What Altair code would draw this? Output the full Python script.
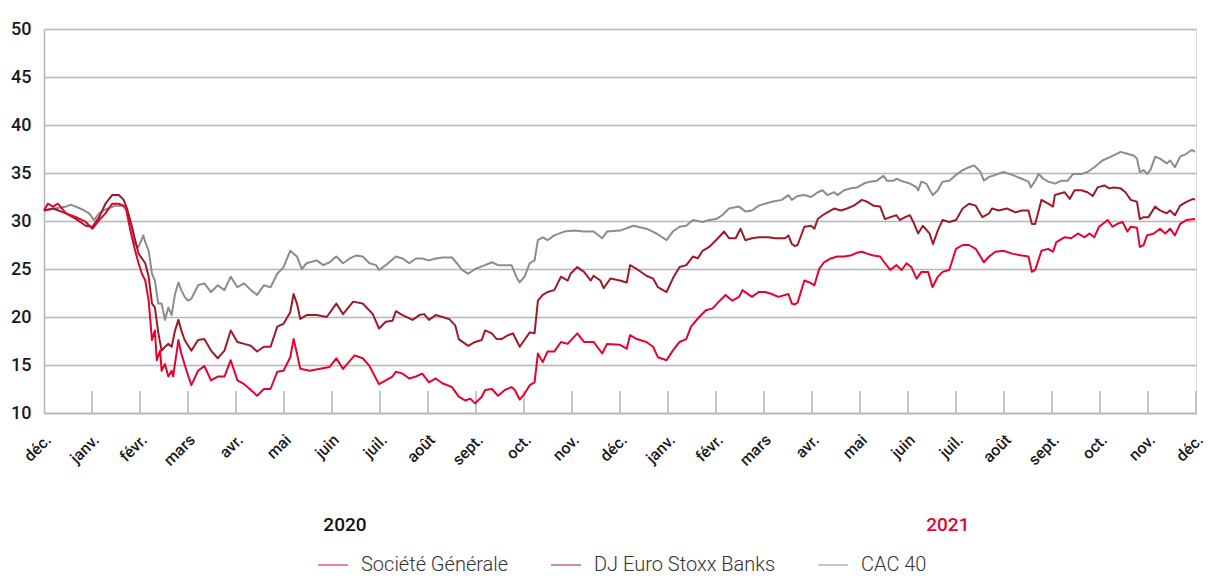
import altair as alt
import pandas as pd

# ---------------- data ----------------
month_labels = ["déc.", "janv.", "févr.", "mars", "avr.", "mai", "juin",
                "juil.", "août", "sept.", "oct.", "nov."]
series_names = ["Société Générale", "DJ Euro Stoxx Banks", "CAC 40"]
series_colors = ["#e4032e", "#9b1b2b", "#8c8c8c"]

cac_m = [0, 0.46, 0.56, 0.80, 0.94, 1.04, 1.15, 1.28, 1.49, 1.63, 1.73, 1.83, 1.90, 1.97,
         2.07, 2.11, 2.18, 2.25, 2.31, 2.38, 2.45, 2.52, 2.59, 2.66, 2.73, 2.80, 2.86, 2.93,
         3.00, 3.07, 3.14, 3.21, 3.34, 3.48, 3.62, 3.76, 3.89, 4.03, 4.17, 4.31, 4.44, 4.58,
         4.72, 4.86, 4.99, 5.13, 5.27, 5.37, 5.47, 5.68, 5.82, 5.95, 6.09, 6.23, 6.37, 6.50,
         6.64, 6.78, 6.92, 6.98, 7.12, 7.33,
         7.47, 7.61, 7.75, 7.88, 8.02, 8.16, 8.30, 8.50, 8.60, 8.71, 8.84, 8.98, 9.19, 9.33,
         9.46, 9.60, 9.74, 9.84, 9.91, 10.01, 10.12, 10.22, 10.29, 10.39, 10.49, 10.63, 10.84,
         11.04, 11.25, 11.45, 11.63, 11.73, 12.00, 12.28, 12.55, 12.76, 12.97, 13.10, 13.24,
         13.38, 13.52, 13.72, 13.86, 14.00, 14.13, 14.27, 14.48, 14.61, 14.75, 14.89, 15.16,
         15.37, 15.51, 15.58,
         15.70, 15.84, 15.98, 16.12, 16.22, 16.32, 16.46, 16.53, 16.67, 16.80, 16.94, 17.08,
         17.21, 17.35, 17.49, 17.56, 17.70, 17.76, 17.90, 18.04, 18.18, 18.21, 18.28, 18.38,
         18.48, 18.52, 18.62, 18.72, 18.86, 19.00, 19.14, 19.27, 19.38, 19.51, 19.58, 19.69,
         19.82, 19.99, 20.17, 20.37, 20.51, 20.56, 20.65, 20.72, 20.82, 20.92, 21.06, 21.20,
         21.33, 21.44, 21.61, 21.74, 21.88, 22.05, 22.23, 22.43, 22.57, 22.71, 22.77, 22.83,
         22.91, 22.98, 23.05, 23.15, 23.25, 23.39, 23.46, 23.56, 23.67, 23.80, 23.91, 23.98]
cac_v = [31.1, 31.5, 31.7, 31.2, 30.8, 30.1, 30.8, 31.2, 31.6, 31.6, 31.1, 29.5, 27.6, 27.3,
         28.5, 27.8, 26.9, 24.5, 23.8, 21.4, 21.4, 19.7, 21.0, 20.2, 22.4, 23.6, 22.8, 22.1,
         21.7, 21.9, 22.6, 23.3, 23.5, 22.6, 23.3, 22.8, 24.2, 23.1, 23.5, 22.8, 22.3, 23.3,
         23.1, 24.5, 25.2, 26.9, 26.3, 25.0, 25.6, 25.9, 25.4, 25.7, 26.3, 25.6, 26.1, 26.4,
         26.3, 25.6, 25.4, 24.9, 25.4, 26.3,
         26.1, 25.6, 26.1, 26.1, 25.9, 26.1, 26.2, 26.2, 25.6, 24.9, 24.5, 25.0, 25.4, 25.7,
         25.4, 25.4, 25.4, 24.2, 23.6, 24.2, 25.6, 25.9, 28.0, 28.3, 28.0, 28.5, 28.9,
         29.0, 28.9, 28.9, 28.2, 28.9, 29.0, 29.5, 29.2, 28.7, 28.0, 28.9, 29.4,
         29.5, 30.1, 29.9, 30.1, 30.2, 30.6, 31.3, 31.5, 31.0, 31.1, 31.6, 32.0,
         32.2, 32.7, 32.2,
         32.6, 32.7, 32.5, 33.0, 33.2, 32.7, 33.0, 32.7, 33.2, 33.4, 33.5, 33.9,
         34.1, 34.2, 34.7, 34.2, 34.2, 34.4, 34.1, 33.9, 33.5, 33.2, 34.1, 33.9,
         33.0, 32.7, 33.2, 34.1, 34.2, 34.8, 35.3, 35.6, 35.8, 35.1, 34.2, 34.6,
         34.8, 35.1, 34.8, 34.4, 34.1, 33.5, 34.2, 34.9, 34.4, 34.1, 33.9, 34.2,
         34.2, 34.9, 34.9, 35.1, 35.6, 36.3, 36.7, 37.2, 37.0, 36.8, 36.5, 35.1,
         35.3, 34.9, 35.3, 36.7, 36.5, 36.0, 36.3, 35.6, 36.7, 37.0, 37.4, 37.2]

dj_m = [0, 0.19, 0.46, 0.67, 0.87, 1.01, 1.15, 1.28, 1.42, 1.56, 1.66, 1.73, 1.83, 1.90,
        1.97, 2.11, 2.18, 2.25, 2.31, 2.38, 2.45, 2.52, 2.59, 2.66, 2.73, 2.80, 2.86, 2.93,
        3.07, 3.21, 3.34, 3.48, 3.62, 3.76, 3.89, 4.03, 4.17, 4.31, 4.44, 4.58, 4.72, 4.86,
        4.99, 5.13, 5.20, 5.27, 5.34, 5.47, 5.68, 5.89, 6.09, 6.23, 6.44, 6.64, 6.85, 6.98,
        7.12, 7.26, 7.33,
        7.47, 7.68, 7.82, 7.92, 8.02, 8.16, 8.30, 8.44, 8.57, 8.64, 8.78, 8.84, 8.98, 9.12,
        9.19, 9.33, 9.43, 9.53, 9.67, 9.77, 9.84, 9.91, 10.01, 10.12, 10.22, 10.29, 10.39,
        10.49, 10.63, 10.77, 10.91, 10.97, 11.11, 11.25, 11.39, 11.45, 11.59, 11.66, 11.80,
        12.00, 12.14, 12.21, 12.35, 12.55, 12.69, 12.79, 12.97, 13.10, 13.24, 13.38, 13.52,
        13.62, 13.72, 13.86, 14.00, 14.17, 14.27, 14.41, 14.51, 14.61, 14.75, 14.89, 15.09,
        15.23, 15.44, 15.51, 15.58,
        15.64, 15.70, 15.84, 15.98, 16.05, 16.12, 16.22, 16.32, 16.46, 16.60, 16.73, 16.87,
        17.04, 17.15, 17.28, 17.42, 17.52, 17.63, 17.76, 17.83, 17.94, 18.04, 18.11, 18.21,
        18.31, 18.45, 18.52, 18.62, 18.72, 18.86, 19.00, 19.14, 19.27, 19.41, 19.55, 19.69,
        19.75, 19.89, 20.06, 20.24, 20.37, 20.51, 20.58, 20.65, 20.78, 20.92, 21.02, 21.06,
        21.26, 21.37, 21.47, 21.61, 21.74, 21.85, 21.95, 22.09, 22.19, 22.29, 22.43, 22.53,
        22.64, 22.77, 22.83, 22.91, 23.01, 23.15, 23.25, 23.39, 23.46, 23.56, 23.67, 23.80,
        23.94, 23.98]
dj_v = [31.1, 31.3, 30.8, 30.2, 29.5, 29.4, 30.4, 31.8, 32.7, 32.7, 32.2, 31.3, 29.4, 28.0,
        26.6, 25.6, 24.2, 21.4, 21.0, 18.4, 16.5, 16.9, 17.2, 16.9, 18.6, 19.7, 18.6, 17.6,
        16.5, 17.6, 17.7, 16.5, 15.7, 16.5, 18.6, 17.4, 17.2, 17.0, 16.4, 16.9, 16.9, 19.0,
        19.3, 20.5, 22.4, 21.4, 19.8, 20.2, 20.2, 20.0, 21.4, 20.3, 21.6, 21.4, 20.3, 18.8,
        19.5, 19.6, 20.6,
        20.2, 19.7, 20.2, 20.3, 19.7, 20.2, 20.0, 19.8, 19.1, 17.7, 17.2, 17.0, 17.4, 17.6,
        18.6, 18.3, 17.7, 17.7, 18.1, 18.3, 17.6, 16.9, 17.6, 18.4, 18.3, 21.7, 22.3,
        22.6, 22.8, 24.2, 23.8, 24.5, 25.2, 24.7, 23.8, 24.3, 23.8, 23.0, 24.0,
        23.8, 23.6, 25.4, 25.0, 24.3, 24.0, 23.1, 22.6, 24.0, 25.2, 25.4, 26.3,
        26.1, 26.9, 27.3, 28.0, 28.9, 28.2, 28.2, 29.2, 28.0, 28.2, 28.3, 28.3,
        28.2, 28.2, 28.5, 27.6,
        27.4, 27.5, 29.4, 29.5, 29.2, 30.2, 30.6, 30.9, 31.3, 31.1, 31.3, 31.6,
        32.2, 32.0, 31.6, 31.5, 30.2, 30.4, 30.6, 30.1, 30.4, 30.6, 29.9, 28.7,
        29.5, 28.7, 27.6, 29.0, 30.1, 29.9, 30.1, 31.3, 31.8, 31.6, 30.4, 30.8,
        31.3, 31.1, 31.3, 30.9, 31.1, 31.1, 29.7, 29.7, 32.2, 31.8, 31.5, 32.7,
        33.0, 32.3, 33.2, 33.2, 33.0, 32.6, 33.5, 33.7, 33.4, 33.5, 33.4, 33.0,
        32.2, 32.0, 30.2, 30.4, 30.4, 31.5, 31.1, 30.8, 31.1, 30.6, 31.6, 32.0,
        32.3, 32.2]

sg_m = [0, 0.08, 0.19, 0.29, 0.46, 0.67, 0.87, 1.01, 1.15, 1.28, 1.42, 1.56, 1.70, 1.80,
        1.90, 1.97, 2.04, 2.11, 2.18, 2.25, 2.31, 2.35, 2.42, 2.45, 2.52, 2.59, 2.66, 2.69,
        2.80, 2.86, 2.97, 3.07, 3.21, 3.34, 3.48, 3.62, 3.76, 3.89, 4.03, 4.17, 4.31, 4.44,
        4.58, 4.72, 4.86, 4.99, 5.13, 5.20, 5.27, 5.34, 5.54, 5.75, 5.95, 6.09, 6.23, 6.47,
        6.64, 6.78, 6.98, 7.12, 7.26, 7.33,
        7.47, 7.61, 7.75, 7.88, 8.02, 8.16, 8.30, 8.50, 8.64, 8.78, 8.88, 8.98, 9.12, 9.19,
        9.33, 9.46, 9.60, 9.74, 9.81, 9.91, 10.01, 10.12, 10.22, 10.29, 10.39, 10.49, 10.63,
        10.77, 10.91, 11.11, 11.25, 11.45, 11.63, 11.73, 12.00, 12.14, 12.21, 12.35, 12.55,
        12.69, 12.79, 12.97, 13.10, 13.24, 13.38, 13.48, 13.65, 13.79, 13.93, 14.06, 14.20,
        14.34, 14.48, 14.55, 14.75, 14.89, 15.03, 15.16, 15.30, 15.51, 15.58,
        15.64, 15.70, 15.84, 15.95, 16.05, 16.15, 16.25, 16.39, 16.53, 16.67, 16.80, 16.94,
        17.04, 17.15, 17.28, 17.42, 17.52, 17.63, 17.76, 17.87, 17.97, 18.07, 18.18, 18.28,
        18.42, 18.51, 18.62, 18.72, 18.86, 19.00, 19.14, 19.27, 19.41, 19.51, 19.58, 19.69,
        19.82, 19.99, 20.17, 20.37, 20.51, 20.58, 20.65, 20.78, 20.92, 21.02, 21.09, 21.26,
        21.40, 21.54, 21.68, 21.78, 21.88, 21.98, 22.16, 22.26, 22.36, 22.47, 22.57, 22.64,
        22.77, 22.83, 22.91, 22.98, 23.12, 23.25, 23.36, 23.46, 23.56, 23.67, 23.80, 23.98]
sg_v = [31.1, 31.8, 31.5, 31.8, 30.8, 30.4, 29.9, 29.2, 30.1, 30.8, 31.8, 31.8, 31.5, 29.0,
        26.9, 25.6, 24.5, 23.8, 21.7, 17.6, 18.6, 15.5, 16.5, 14.4, 15.1, 13.8, 14.4, 13.8,
        17.6, 16.2, 14.4, 12.9, 14.4, 14.9, 13.4, 13.8, 13.8, 15.5, 13.4, 13.0, 12.4, 11.8,
        12.5, 12.5, 14.3, 14.4, 15.8, 17.7, 16.2, 14.6, 14.4, 14.6, 14.8, 15.7, 14.6, 16.0,
        15.7, 14.9, 13.0, 13.4, 13.8, 14.3,
        14.1, 13.6, 13.8, 14.1, 13.2, 13.6, 13.1, 12.7, 11.7, 11.3, 11.5, 11.0, 11.7, 12.4,
        12.5, 11.8, 12.4, 12.7, 12.4, 11.4, 12.0, 12.9, 13.2, 16.2, 15.3, 16.4, 16.4,
        17.4, 17.2, 18.3, 17.4, 17.4, 16.2, 17.2, 17.1, 16.7, 18.1, 17.7, 17.4,
        16.9, 15.8, 15.5, 16.5, 17.4, 17.7, 19.0, 20.0, 20.7, 20.9, 21.6, 22.3,
        21.7, 22.1, 22.8, 22.1, 22.6, 22.6, 22.4, 22.1, 22.4, 21.4,
        21.3, 21.5, 23.8, 23.6, 23.3, 25.0, 25.7, 26.1, 26.3, 26.3, 26.4, 26.7,
        26.8, 26.6, 26.4, 26.3, 25.6, 24.9, 25.4, 24.9, 25.6, 25.2, 24.0, 24.7,
        24.7, 23.1, 24.2, 24.7, 24.9, 27.1, 27.5, 27.5, 27.1, 26.3, 25.7, 26.3,
        26.8, 26.9, 26.6, 26.4, 26.3, 24.7, 24.9, 26.9, 27.1, 26.8, 27.8, 28.3,
        28.2, 28.7, 28.3, 28.7, 28.3, 29.4, 30.1, 29.4, 29.7, 29.9, 28.9, 29.4,
        29.3, 27.3, 27.5, 28.5, 28.7, 29.2, 28.7, 29.2, 28.5, 29.7, 30.1, 30.2]

tick_months = list(range(1, 25))
year_labels = ["2020", "2021"]
year_pos = [6.27, 18.83]
year_colors = ["#111111", "#e4032e"]

# ---------------- build ----------------
W, H = 1152, 384
PL, PT = 36, 21
TOTAL_W, TOTAL_H = 1201, 569

rows = []
for name, ms, vs in [(series_names[2], cac_m, cac_v),
                     (series_names[1], dj_m, dj_v),
                     (series_names[0], sg_m, sg_v)]:
    for i, (m, v) in enumerate(zip(ms, vs)):
        rows.append({"serie": name, "m": m, "v": v, "i": i})
df = pd.DataFrame(rows)

label_expr = "[" + ",".join("'" + s + "'" for s in month_labels) + "][datum.value % 12]"

x_scale = alt.Scale(domain=[0, 24], nice=False, zero=False)
y_scale = alt.Scale(domain=[10, 50], nice=False, zero=False)

lines = alt.Chart(df).mark_line(strokeWidth=2, strokeJoin="round").encode(
    x=alt.X("m:Q", scale=x_scale,
            axis=alt.Axis(values=list(range(0, 25)), labelExpr=label_expr, title=None,
                          grid=False, ticks=False, labelAngle=-45, labelAlign="right",
                          labelBaseline="middle", labelPadding=24, labelOffset=4,
                          labelFont="Roboto", labelFontSize=16,
                          labelFontWeight=500, labelColor="#1a1a1a",
                          domainColor="#b5b5b5", domainWidth=1.5, labelOverlap=False)),
    y=alt.Y("v:Q", scale=y_scale,
            axis=alt.Axis(values=list(range(10, 51, 5)), title=None, grid=True,
                          gridColor="#b5b5b5", gridWidth=1.5, ticks=False,
                          labelPadding=13, labelFont="Roboto",
                          labelFontSize=18, labelFontWeight=500, labelColor="#1a1a1a",
                          domainColor="#b5b5b5", domainWidth=1.5)),
    color=alt.Color("serie:N",
                    scale=alt.Scale(domain=series_names, range=series_colors),
                    legend=alt.Legend(title=None, orient="none", direction="horizontal",
                                      legendX=273, legendY=520, padding=0,
                                      symbolType="stroke", symbolSize=900,
                                      symbolStrokeWidth=1.5, symbolOpacity=0.65,
                                      labelFont="Roboto", labelFontWeight=300,
                                      labelFontSize=20, labelColor="#333333",
                                      labelLimit=0, columnPadding=39, labelOffset=12)),
    detail="serie:N",
    order="i:Q",
)

ticks_df = pd.DataFrame({"m": tick_months})
ticks = alt.Chart(ticks_df).mark_rule(color="#b5b5b5", strokeWidth=1.5).encode(
    x=alt.X("m:Q", scale=x_scale),
    y=alt.value(H - 22),
    y2=alt.value(H),
)

years_df = pd.DataFrame({"t": year_labels, "m": year_pos, "c": year_colors})
years = alt.Chart(years_df).mark_text(font="Roboto", fontSize=19,
                                      fontWeight=500, baseline="middle",
                                      align="center").encode(
    x=alt.X("m:Q", scale=x_scale),
    y=alt.value(H + 112),
    text="t:N",
    color=alt.Color("c:N", scale=None),
)

chart = alt.layer(ticks, lines, years).properties(
    width=W, height=H,
    autosize=alt.AutoSizeParams(type="none"),
    padding={"left": PL, "top": PT, "right": TOTAL_W - PL - W,
             "bottom": TOTAL_H - PT - H},
).configure_view(stroke=None).configure(background="white")

chart.save("out.html", embed_options={"renderer": "svg", "actions": False})
